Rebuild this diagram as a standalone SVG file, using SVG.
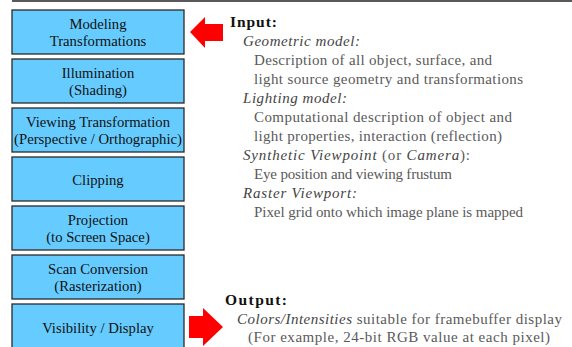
<svg xmlns="http://www.w3.org/2000/svg" width="572" height="347" viewBox="0 0 572 347">
<defs>
<style>
.box{fill:#66CCFF;stroke:#2a2a2a;stroke-width:1.3}
.arr{fill:#FF0000}
</style>
</defs>
<rect width="572" height="347" fill="#ffffff"/>
<line x1="12" y1="1" x2="572" y2="1" stroke="#222" stroke-width="1.5"/>
<g id="n-modeling"><rect class="box" x="12" y="10" width="172" height="44"/><text transform="translate(98 28.5) scale(0.735)" font-family="Liberation Serif" font-size="20" fill="#111" text-anchor="middle">Modeling</text><text transform="translate(98 46) scale(0.735)" font-family="Liberation Serif" font-size="20" fill="#111" text-anchor="middle">Transformations</text></g>
<g id="n-illumination"><rect class="box" x="12" y="59" width="172" height="44"/><text transform="translate(98 77.5) scale(0.735)" font-family="Liberation Serif" font-size="20" fill="#111" text-anchor="middle">Illumination</text><text transform="translate(98 95) scale(0.735)" font-family="Liberation Serif" font-size="20" fill="#111" text-anchor="middle">(Shading)</text></g>
<g id="n-viewing"><rect class="box" x="12" y="108" width="172" height="44"/><text transform="translate(98 126.5) scale(0.735)" font-family="Liberation Serif" font-size="20" fill="#111" text-anchor="middle">Viewing Transformation</text><text transform="translate(98 144) scale(0.735)" font-family="Liberation Serif" font-size="20" fill="#111" text-anchor="middle" textLength="228.6">(Perspective / Orthographic)</text></g>
<g id="n-clipping"><rect class="box" x="12" y="157" width="172" height="44"/><text transform="translate(98 184.5) scale(0.735)" font-family="Liberation Serif" font-size="20" fill="#111" text-anchor="middle">Clipping</text></g>
<g id="n-projection"><rect class="box" x="12" y="206" width="172" height="44"/><text transform="translate(98 224.5) scale(0.735)" font-family="Liberation Serif" font-size="20" fill="#111" text-anchor="middle">Projection</text><text transform="translate(98 242) scale(0.735)" font-family="Liberation Serif" font-size="20" fill="#111" text-anchor="middle">(to Screen Space)</text></g>
<g id="n-scan"><rect class="box" x="12" y="255" width="172" height="44"/><text transform="translate(98 273.5) scale(0.735)" font-family="Liberation Serif" font-size="20" fill="#111" text-anchor="middle">Scan Conversion</text><text transform="translate(98 291) scale(0.735)" font-family="Liberation Serif" font-size="20" fill="#111" text-anchor="middle">(Rasterization)</text></g>
<g id="n-visibility"><rect class="box" x="12" y="304" width="172" height="46"/><text transform="translate(98 332.5) scale(0.735)" font-family="Liberation Serif" font-size="20" fill="#111" text-anchor="middle">Visibility / Display</text></g>
<g id="connectors">
<polygon class="arr" points="190,32 205,17 205,24 223,24 223,41 205,41 205,48"/>
<polygon class="arr" points="189,316 203,316 203,308 223,327 203,346 203,338 189,338"/>
</g>
<g id="n-input-text">
<text transform="translate(230 26.5) scale(0.775)" font-family="Liberation Serif" font-size="20" font-weight="bold" fill="#111" textLength="60.6">Input:</text>
<text transform="translate(243 45.5) scale(0.75)" font-family="Liberation Serif" font-size="20" font-style="italic" fill="#444" textLength="156">Geometric model:</text>
<text transform="translate(254 64.5) scale(0.75)" font-family="Liberation Serif" font-size="20" fill="#5a5a5a" textLength="317.3">Description of all object, surface, and</text>
<text transform="translate(254 83.5) scale(0.75)" font-family="Liberation Serif" font-size="20" fill="#5a5a5a" textLength="358.7">light source geometry and transformations</text>
<text transform="translate(243 102.5) scale(0.75)" font-family="Liberation Serif" font-size="20" font-style="italic" fill="#444" textLength="138.7">Lighting model:</text>
<text transform="translate(254 121.5) scale(0.75)" font-family="Liberation Serif" font-size="20" fill="#5a5a5a" textLength="344">Computational description of object and</text>
<text transform="translate(254 140.5) scale(0.75)" font-family="Liberation Serif" font-size="20" fill="#5a5a5a" textLength="330.7">light properties, interaction (reflection)</text>
<text transform="translate(243 159.5) scale(0.75)" font-family="Liberation Serif" font-size="20" fill="#5a5a5a" textLength="302.7"><tspan font-style="italic" fill="#444">Synthetic Viewpoint</tspan> (or <tspan font-style="italic" fill="#444">Camera</tspan>):</text>
<text transform="translate(254 178.5) scale(0.75)" font-family="Liberation Serif" font-size="20" fill="#5a5a5a" textLength="264">Eye position and viewing frustum</text>
<text transform="translate(243 197.5) scale(0.75)" font-family="Liberation Serif" font-size="20" font-style="italic" fill="#444" textLength="152">Raster Viewport:</text>
<text transform="translate(254 216.5) scale(0.75)" font-family="Liberation Serif" font-size="20" fill="#5a5a5a" textLength="358.7">Pixel grid onto which image plane is mapped</text>
</g>
<g id="n-output-text">
<text transform="translate(225 305) scale(0.775)" font-family="Liberation Serif" font-size="20" font-weight="bold" fill="#111" textLength="80">Output:</text>
<text transform="translate(237 323.5) scale(0.75)" font-family="Liberation Serif" font-size="20" fill="#5a5a5a" textLength="433.3"><tspan font-style="italic" fill="#444">Colors/Intensities</tspan> suitable for framebuffer display</text>
<text transform="translate(248 342) scale(0.75)" font-family="Liberation Serif" font-size="20" fill="#5a5a5a" textLength="402.7">(For example, 24-bit RGB value at each pixel)</text>
</g>
</svg>
